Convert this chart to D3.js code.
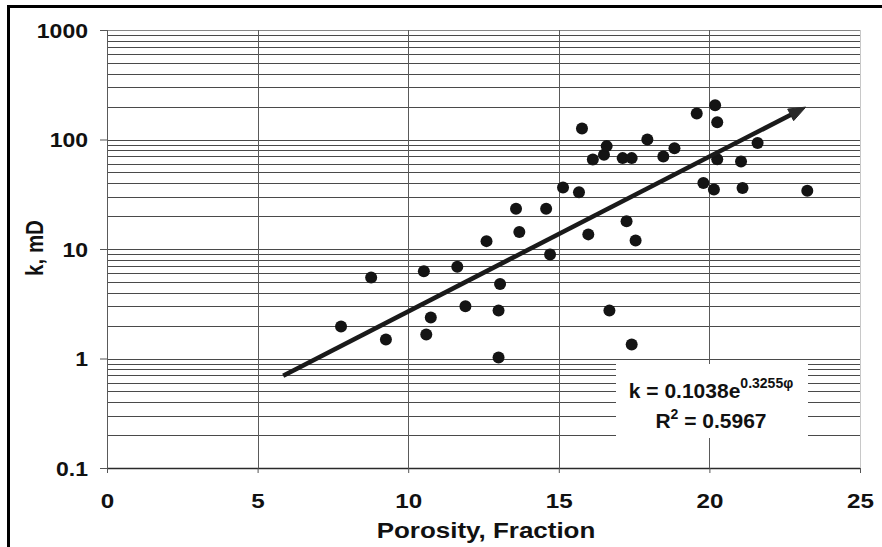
<!DOCTYPE html>
<html><head><meta charset="utf-8">
<script src="https://cdn.jsdelivr.net/npm/d3@7/dist/d3.min.js"></script>
<style>html,body{margin:0;padding:0;background:#fff;}svg{display:block;}</style>
</head><body>
<svg id="c" width="882" height="547"></svg>
<script>
// ---- data ----
const porosity = [7.77, 8.77, 9.26, 10.52, 10.6, 10.75, 11.63, 11.9, 12.6, 13.05, 13.0, 13.0,
  13.58, 13.69, 14.58, 14.71, 15.14, 15.67, 15.77, 15.98, 16.13, 16.5, 16.59, 16.68, 17.12, 17.42,
  17.25, 17.55, 17.42, 17.94, 18.47, 18.84, 19.58, 20.19, 20.26, 20.26, 19.8, 20.15, 21.05, 21.1,
  21.6, 23.25];
const permeability = [1.96, 5.5, 1.49, 6.27, 1.66, 2.37, 6.9, 3.0, 11.8, 4.8, 2.75, 1.02,
  23.3, 14.3, 23.3, 8.9, 36.4, 32.9, 126, 13.6, 65.7, 72.5, 87, 2.74, 67.6, 67.6,
  17.9, 11.95, 1.34, 100, 70, 83, 173, 205, 144, 66, 40, 35, 63, 36,
  93, 34];
const xTicks = [0, 5, 10, 15, 20, 25];
const yTicks = [0.1, 1, 10, 100, 1000];
const yTickLabels = ["0.1", "1", "10", "100", "1000"];
const trendA = 0.1038, trendB = 0.3255;
const trendRange = [5.85, 23.2];
const eqLine1 = "k = 0.1038e", eqSup = "0.3255\u03C6", eqLine2 = "R", eqLine2b = " = 0.5967";

// ---- chart ----
const svg = d3.select("#c");
const SX = 1.18;
const font = "'Liberation Sans', Arial, sans-serif";
const ink = "#111";
const x = d3.scaleLinear().domain([0, 25]).range([107, 860]);
const y = d3.scaleLog().domain([0.1, 1000]).range([468, 30]);

// frame (top + left)
svg.append("line").attr("x1", 7).attr("x2", 882).attr("y1", 6.5).attr("y2", 6.5).attr("stroke", "#000").attr("stroke-width", 3);
svg.append("line").attr("x1", 8.5).attr("x2", 8.5).attr("y1", 5).attr("y2", 547).attr("stroke", "#000").attr("stroke-width", 3);

// horizontal grid (minor + major)
const gridVals = [];
[0.1, 1, 10, 100].forEach(d => { for (let m = 1; m <= 9; m++) gridVals.push(+(m * d).toPrecision(3)); });
gridVals.push(1000);
svg.append("g").selectAll("line").data(gridVals).join("line")
  .attr("x1", x(0)).attr("x2", x(25))
  .attr("y1", d => Math.round(y(d)) + 0.5).attr("y2", d => Math.round(y(d)) + 0.5)
  .attr("stroke", d => d === 0.1 ? "#2a2a2a" : (d === 1000 ? "#888" : "#4a4a4a"))
  .attr("stroke-width", d => d === 0.1 ? 1.6 : 1);

// vertical grid
svg.append("g").selectAll("line").data(xTicks).join("line")
  .attr("x1", d => Math.round(x(d)) + 0.5).attr("x2", d => Math.round(x(d)) + 0.5)
  .attr("y1", y(1000)).attr("y2", y(0.1))
  .attr("stroke", d => d === 25 ? "#c8c8c8" : "#5a5a5a").attr("stroke-width", 1);

// axes
const yAxis = svg.append("g").attr("transform", `translate(${x(0)},0)`)
  .call(d3.axisLeft(y).tickValues(yTicks).tickFormat((d, i) => yTickLabels[i]).tickSize(7).tickSizeOuter(0));
yAxis.select(".domain").remove();
yAxis.selectAll(".tick line").attr("stroke", "#555");
yAxis.selectAll(".tick text")
  .attr("x", null).attr("dy", null)
  .attr("transform", "translate(-19,7) scale(" + SX + ",1)")
  .attr("font-family", font).attr("font-weight", "bold").attr("font-size", 19.5).attr("fill", ink);

const xAxis = svg.append("g").attr("transform", `translate(0,${y(0.1)})`)
  .call(d3.axisBottom(x).tickValues(xTicks).tickFormat(d3.format("d")).tickSize(5).tickSizeOuter(0));
xAxis.select(".domain").remove();
xAxis.selectAll(".tick line").attr("stroke", "#555");
xAxis.selectAll(".tick text")
  .attr("y", null).attr("dy", null)
  .attr("transform", "translate(0,40) scale(" + SX + ",1)")
  .attr("font-family", font).attr("font-weight", "bold").attr("font-size", 20.5).attr("fill", ink);

// axis titles
svg.append("text").attr("transform", `translate(486,538) scale(${SX},1)`)
  .attr("text-anchor", "middle").attr("font-family", font).attr("font-weight", "bold")
  .attr("font-size", 22).attr("fill", ink).text("Porosity, Fraction");
svg.append("text").attr("transform", `translate(43,248) rotate(-90) scale(1,${SX})`)
  .attr("text-anchor", "middle").attr("font-family", font).attr("font-weight", "bold")
  .attr("font-size", 20.5).attr("fill", ink).text("k, mD");

// points
svg.append("g").selectAll("circle").data(porosity.map((p, i) => [p, permeability[i]])).join("circle")
  .attr("cx", d => x(d[0])).attr("cy", d => y(d[1])).attr("r", 6).attr("fill", "#141414");

// trend line with arrow
const f = v => trendA * Math.exp(trendB * v);
const S = [x(trendRange[0]), y(f(trendRange[0]))];
const P = [x(trendRange[1]), y(f(trendRange[1]))];
const len = Math.hypot(P[0] - S[0], P[1] - S[1]);
const u = [(P[0] - S[0]) / len, (P[1] - S[1]) / len];
const n = [-u[1], u[0]];
const AL = 17, AW = 6.5;
const B = [P[0] - AL * u[0], P[1] - AL * u[1]];
svg.append("path").datum([S, [B[0] + 3 * u[0], B[1] + 3 * u[1]]])
  .attr("d", d3.line()).attr("stroke", "#1a1a1a").attr("stroke-width", 4.5).attr("fill", "none");
svg.append("path").datum([P, [B[0] + AW * n[0], B[1] + AW * n[1]], [B[0] - AW * n[0], B[1] - AW * n[1]]])
  .attr("d", d => d3.line()(d) + "Z").attr("fill", "#2a2a2a").attr("stroke", "#2a2a2a").attr("stroke-width", 1);

// equation box
svg.append("rect").attr("x", 616).attr("y", 364).attr("width", 192).attr("height", 74).attr("fill", "#fff");
const t1 = svg.append("text").attr("x", 711).attr("y", 398).attr("text-anchor", "middle")
  .attr("font-family", font).attr("font-weight", "bold").attr("fill", ink);
t1.append("tspan").attr("font-size", 21).text(eqLine1);
t1.append("tspan").attr("font-size", 14).attr("dy", -10).text(eqSup);
const t2 = svg.append("text").attr("x", 711).attr("y", 428).attr("text-anchor", "middle")
  .attr("font-family", font).attr("font-weight", "bold").attr("fill", ink);
t2.append("tspan").attr("font-size", 21).text(eqLine2);
t2.append("tspan").attr("font-size", 14).attr("dy", -9).text("2");
t2.append("tspan").attr("font-size", 21).attr("dy", 9).text(eqLine2b);
</script>
</body></html>
